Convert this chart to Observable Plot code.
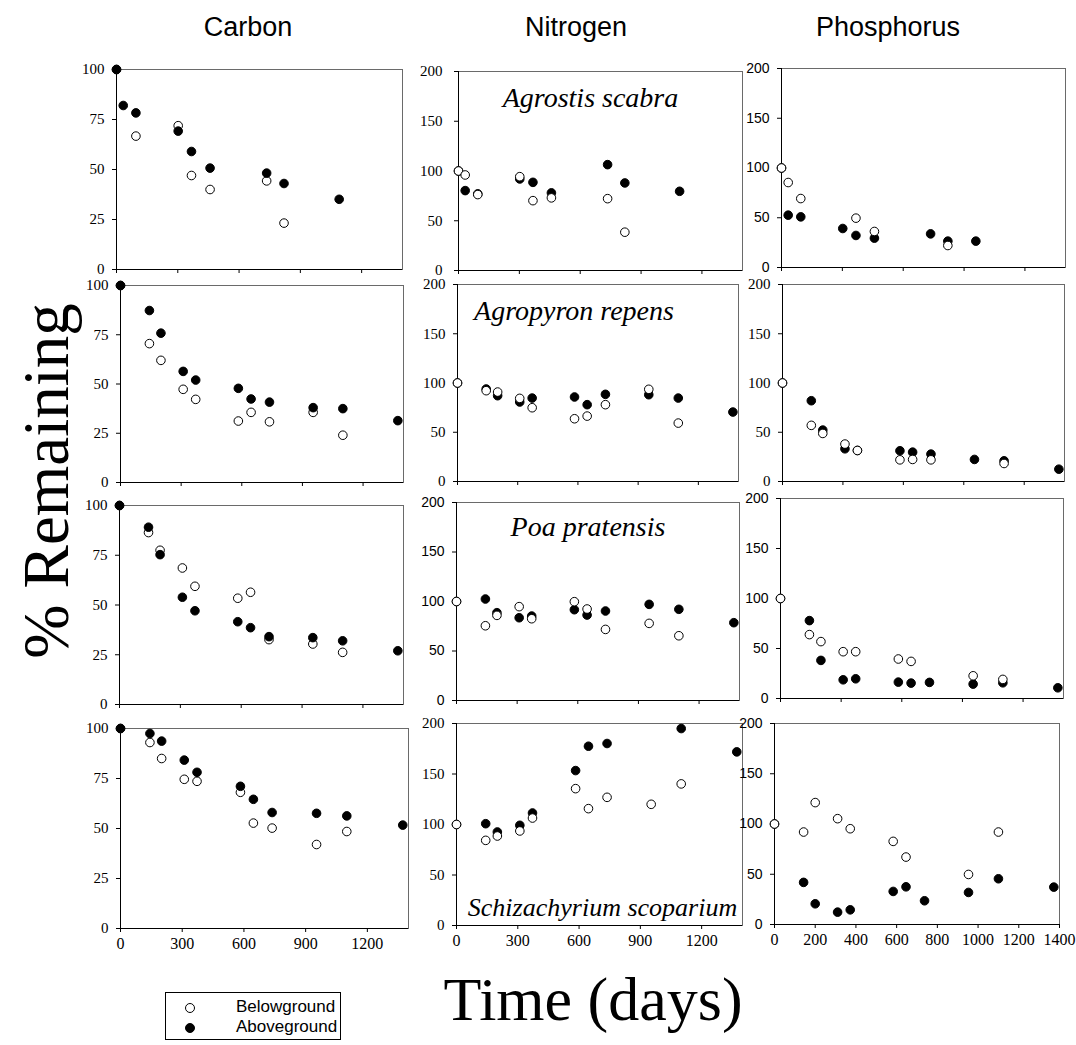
<!DOCTYPE html>
<html><head><meta charset="utf-8">
<script src="https://cdn.jsdelivr.net/npm/d3@7"></script>
<script src="https://cdn.jsdelivr.net/npm/@observablehq/plot@0.6"></script>
<style>
body{margin:0;background:#fff;}
#chart{position:relative;width:1076px;height:1045px;overflow:hidden;background:#fff;}
.abs{position:absolute;white-space:nowrap;}
</style></head><body><div id="chart"></div>
<script>
// ---------- data ----------
const species = ["Agrostis scabra", "Agropyron repens", "Poa pratensis", "Schizachyrium scoparium"];
const elements = ["Carbon", "Nitrogen", "Phosphorus"];
const seriesNames = ["Belowground", "Aboveground"];

const daysAgrostis  = [0, 33, 95, 302, 367, 458, 735, 820, 1090];
const daysAgrostisP = [0, 33, 95, 302, 367, 458, 735, 820, 958];
const daysOther     = [0, 143, 200, 310, 372, 583, 646, 737, 953, 1100, 1372];

// Agrostis scabra
const agrCAbove = [100, 82, 78.3, 69.2, 59, 50.7, 48.2, 43, 35.1];
const agrCBelow = [100, null, 66.7, 71.9, 47, 40, 44.3, 23.2, null];
const agrNAbove = [100, 80.3, 77, 92, 88.6, 78, 106.4, 88, 79.6];
const agrNBelow = [100, 96, 76.3, 94.3, 70.2, 73, 72.2, 38.5, null];
const agrPAbove = [100, 52.6, 50.9, 39.2, 32.2, 29.5, 33.8, 26.5, 26.5];
const agrPBelow = [100, 85.4, 69.3, null, 49.6, 36.2, null, 22.1, null];
// Agropyron repens
const agpCAbove = [100, 87.3, 75.8, 56.4, 52, 47.8, 42.4, 40.8, 38, 37.5, 31.4];
const agpCBelow = [100, 70.5, 62, 47.3, 42.2, 31.2, 35.6, 30.8, 35.6, 24, null];
const agpNAbove = [100, 93.9, 87.1, 80.7, 84.7, 85.8, 78, 88.5, 88.1, 84.7, 70.5];
const agpNBelow = [100, 92.2, 90.8, 84.4, 74.9, 63.7, 66.4, 78, 93.6, 59.3, null];
const agpPAbove = [100, 82, 52.2, 33.2, 31.5, 31.2, 29.8, 27.8, 22.4, 21, 12.5];
const agpPBelow = [100, 57, 48.8, 38, 31.5, 22, 22.4, 22, null, 18.3, null];
// Poa pratensis
const poaCAbove = [100, 89.1, 75.3, 53.9, 47.1, 41.6, 38.6, 34.1, 33.6, 32, 27];
const poaCBelow = [100, 86.4, 77.5, 68.6, 59.4, 53.4, 56.4, 32.6, 30.4, 26.2, null];
const poaNAbove = [100, 102.5, 88.7, 83.6, 85.3, 91.7, 86.3, 90.4, 97.1, 92.1, 78.6];
const poaNBelow = [100, 75.5, 86, 94.8, 82.6, 99.8, 92.4, 71.8, 77.9, 65.4, null];
const poaPAbove = [100, 77.9, 38.1, 18.7, 19.7, 16.4, 15.4, 16.1, 14.4, 15.7, 10.7];
const poaPBelow = [100, 63.9, 56.9, 46.8, 46.8, 39.5, 37.1, null, 22.7, 19.1, null];
// Schizachyrium scoparium
const schCAbove = [100, 97.5, 93.7, 84.2, 78.1, 71.1, 64.6, 58, 57.6, 56.3, 51.7];
const schCBelow = [100, 93, 85, 74.6, 73.6, 68.1, 52.7, 50.2, 42, 48.5, null];
const schNAbove = [100, 100.8, 92.6, 99.2, 111.4, 153.4, 177.5, 180.2, null, 195, 171.9];
const schNBelow = [100, 84.3, 88.6, 93.6, 106.4, 135.5, 115.7, 126.9, 120, 140.2, null];
const schPAbove = [100, 41.9, 20.6, 12.3, 14.6, 32.9, 37.5, 23.6, 31.9, 45.5, 37.2];
const schPBelow = [100, 92, 121.3, 105.3, 95.3, 82.7, 67.1, null, 49.8, 92, null];

const carbonTicks = [0, 25, 50, 75, 100];
const npTicks = [0, 50, 100, 150, 200];
const dayTicks = [0, 300, 600, 900, 1200];
const pDayTicks = [0, 200, 400, 600, 800, 1000, 1200, 1400];

// ---------- layout (pixel frames of each panel: left, top, right, bottom) ----------
const frames = [
  [[116, 69, 402, 269], [458, 71, 742, 270], [781, 68, 1065, 267]],
  [[120, 285, 403, 482], [457, 284, 738, 481], [782, 284, 1064, 481]],
  [[119, 505, 403, 704], [456, 502, 739, 700], [780, 498, 1063, 698]],
  [[120, 728, 408, 928], [456, 723, 742, 925], [774, 723, 1059, 924]]
];
const SERIF = "'Liberation Serif','Times New Roman',serif";
const SANS = "'Liberation Sans',Arial,sans-serif";
const yFonts = [[SERIF, SERIF, SANS], [SERIF, SERIF, SERIF], [SERIF, SANS, SANS], [SERIF, SERIF, SANS]];

const table = [
  [[agrCBelow, agrCAbove], [agrNBelow, agrNAbove], [agrPBelow, agrPAbove]],
  [[agpCBelow, agpCAbove], [agpNBelow, agpNAbove], [agpPBelow, agpPAbove]],
  [[poaCBelow, poaCAbove], [poaNBelow, poaNAbove], [poaPBelow, poaPAbove]],
  [[schCBelow, schCAbove], [schNBelow, schNAbove], [schPBelow, schPAbove]]
];
function daysFor(r, c) { return r === 0 ? (c === 2 ? daysAgrostisP : daysAgrostis) : daysOther; }
const labelPos = [
  {anchor: "top", dx: -10, dy: 16, size: 28},
  {anchor: "top", dx: -24, dy: 16, size: 28},
  {anchor: "top", dx: -10, dy: 14, size: 28},
  {anchor: "bottom", dx: 3, dy: -10, size: 26}
];

const chart = document.getElementById("chart");

function rows(days, vals, type) {
  return days.map((d, i) => ({day: d, value: vals[i], type})).filter(d => d.value != null);
}

for (let r = 0; r < 4; r++) {
  for (let c = 0; c < 3; c++) {
    const [L, T, R, B] = frames[r][c];
    const mL = 50, mT = 12, mR = 12, mB = 32;
    const days = daysFor(r, c);
    const [belowVals, aboveVals] = table[r][c];
    const below = rows(days, belowVals, seriesNames[0]);
    const above = rows(days, aboveVals, seriesNames[1]);
    const yMax = c === 0 ? 100 : 200;
    const xTicks = (r === 3 && c === 2) ? pDayTicks : dayTicks;
    const yFont = yFonts[r][c];
    const dotBelow = Plot.dot(below, {x: "day", y: "value", r: 4.3, fill: "white", stroke: "black", strokeWidth: 1});
    const dotAbove = Plot.dot(above, {x: "day", y: "value", r: 4.3, fill: "black", stroke: "black", strokeWidth: 1});
    const marks = [
      Plot.frame({stroke: "#6a6a6a"}),
      Plot.ruleX([0], {stroke: "black"}),
      Plot.ruleY([0], {stroke: "black"}),
      Plot.axisY({ticks: c === 0 ? carbonTicks : npTicks, tickSize: 4,
        tickPadding: (r === 0 && c === 1) ? 12 : 8, label: null,
        fontFamily: yFont, fontSize: yFont === SANS ? 14 : 15}),
      Plot.axisX({ticks: xTicks, tickSize: 4, tickPadding: 5, label: null,
        tickFormat: r === 3 ? (d => String(d)) : (() => ""), fontFamily: SERIF, fontSize: 16}),
      ...(c === 0 ? [dotBelow, dotAbove] : [dotAbove, dotBelow])
    ];
    if (c === 1) {
      const lp = labelPos[r];
      marks.push(Plot.text([species[r]], {text: d => d, frameAnchor: lp.anchor, dx: lp.dx, dy: lp.dy,
        fontFamily: SERIF, fontStyle: "italic", fontSize: lp.size, fill: "black",
        lineAnchor: lp.anchor === "top" ? "top" : "bottom"}));
    }
    const svg = Plot.plot({
      width: (R - L) + mL + mR, height: (B - T) + mT + mB,
      marginLeft: mL, marginRight: mR, marginTop: mT, marginBottom: mB,
      x: {domain: [0, 1400]},
      y: {domain: [0, yMax]},
      style: {background: "transparent", color: "black", overflow: "visible",
        fontSize: "14px", fontFamily: yFont},
      marks
    });
    svg.style.position = "absolute";
    svg.style.left = (L - mL) + "px";
    svg.style.top = (T - mT) + "px";
    chart.appendChild(svg);
  }
}

// column titles
const titleX = [248, 576, 888];
elements.forEach((e, i) => {
  const d = document.createElement("div");
  d.className = "abs";
  d.textContent = e;
  d.style.cssText += `left:${titleX[i]}px;top:14px;transform:translateX(-50%);font:27px ${SANS};line-height:1;`;
  chart.appendChild(d);
});
// y label
const yl = document.createElement("div");
yl.className = "abs";
yl.textContent = "% Remaining";
yl.style.cssText += `left:46px;top:481px;transform:translate(-50%,-50%) rotate(-90deg);font:65px ${SERIF};line-height:1;`;
chart.appendChild(yl);
// x label
const xl = document.createElement("div");
xl.className = "abs";
xl.textContent = "Time (days)";
xl.style.cssText += `left:593px;top:968px;transform:translateX(-50%);font:62px ${SERIF};line-height:1;`;
chart.appendChild(xl);
// legend
const lg = document.createElement("div");
lg.className = "abs";
lg.style.cssText += `left:165px;top:992px;width:176px;height:48px;border:1px solid black;box-sizing:border-box;font:17px ${SANS};`;
lg.innerHTML = seriesNames.map((n, i) =>
  `<div style="position:absolute;left:18px;top:${4 + i * 20}px;height:20px;line-height:20px;">
     <svg width="12" height="12" style="vertical-align:middle;"><circle cx="6" cy="6" r="4.5" fill="${i ? "black" : "white"}" stroke="black"/></svg><span style="position:absolute;left:52px;top:0;">${n}</span></div>`).join("");
chart.appendChild(lg);
</script></body></html>
